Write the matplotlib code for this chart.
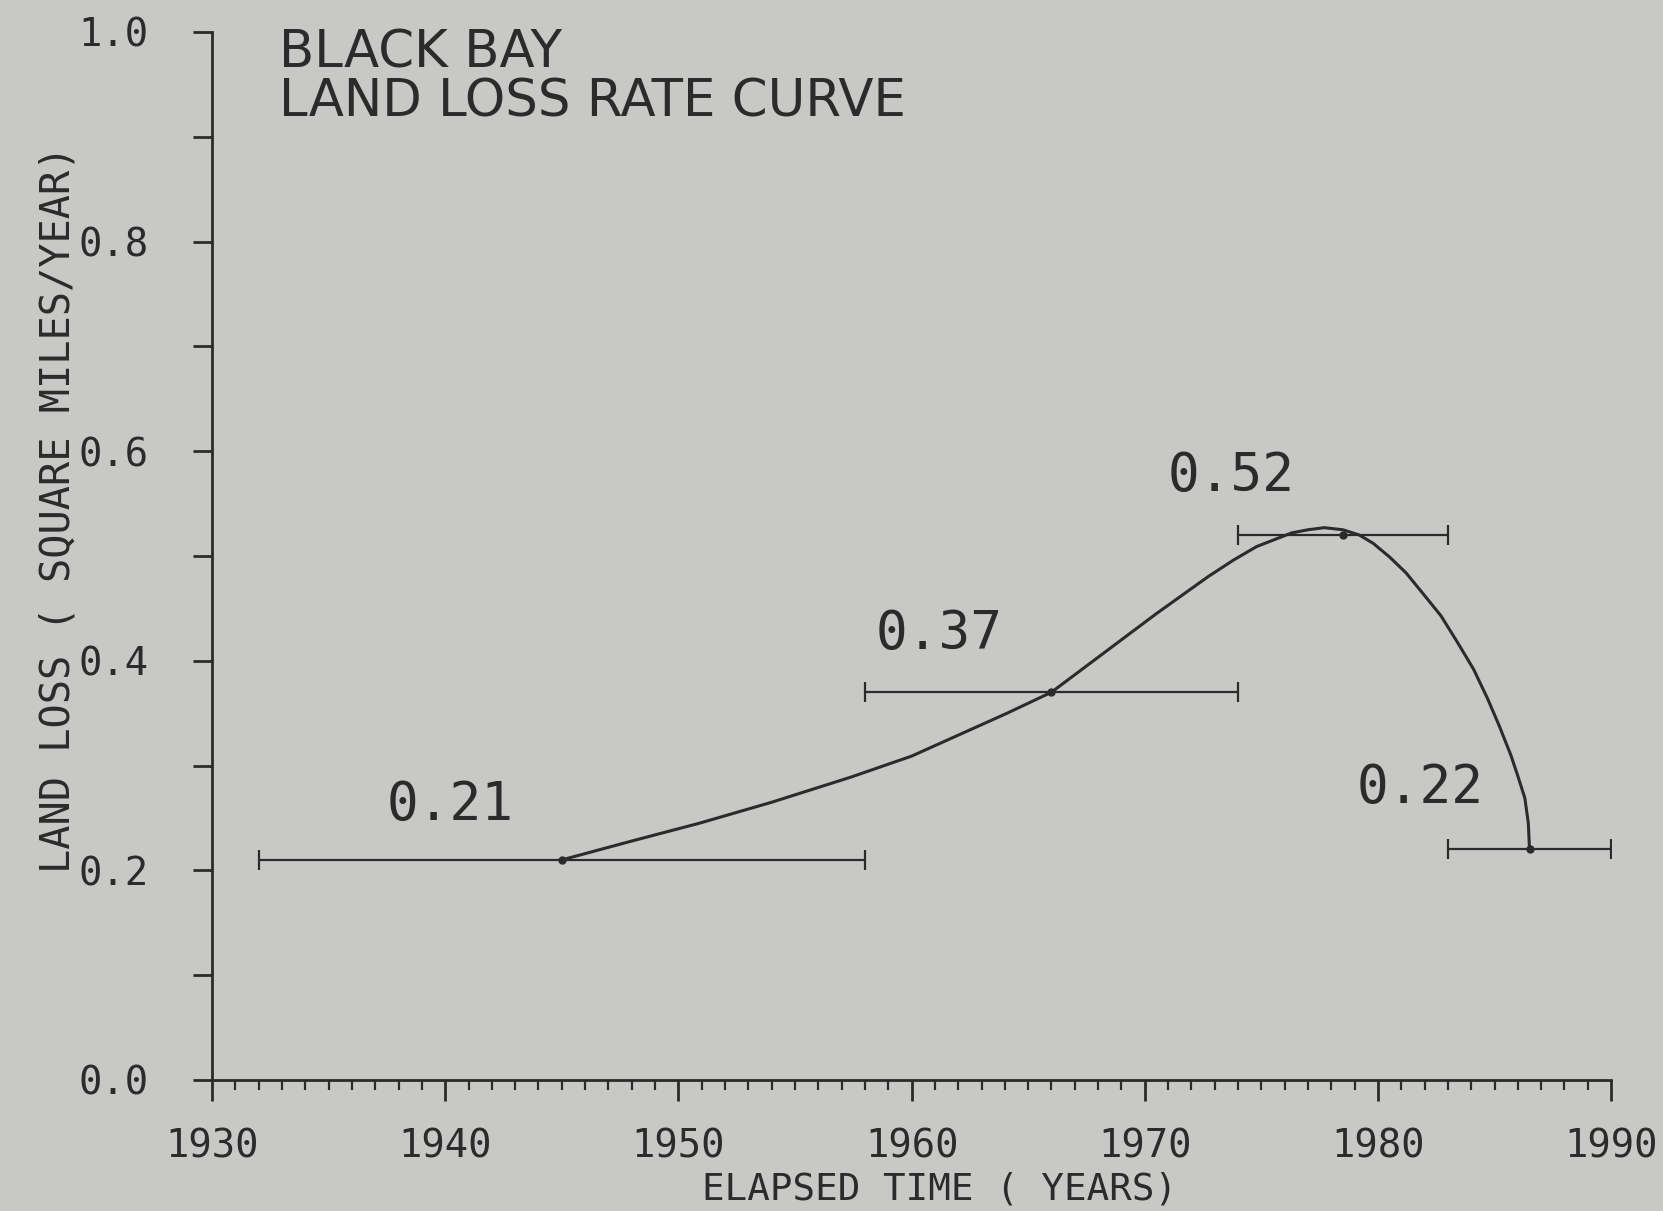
import matplotlib
matplotlib.use("Agg")
import matplotlib.pyplot as plt
from matplotlib.ticker import MultipleLocator, FixedLocator

# ---- data ----
period_start = [1932, 1958, 1974, 1983]
period_end = [1958, 1974, 1983, 1990]
rate_year = [1945, 1966, 1978.5, 1986.5]
rate_value = [0.21, 0.37, 0.52, 0.22]
rate_labels = ["0.21", "0.37", "0.52", "0.22"]

# smooth rate curve
curve_year = [1945, 1948.0, 1950.9, 1954.0, 1957.4, 1960.0, 1962.4, 1964.1, 1966.0,
              1967.2, 1968.4, 1970.5, 1972.7, 1973.8, 1974.8, 1976.3, 1977.0,
              1977.7, 1978.5, 1979.2, 1979.8, 1980.5, 1981.2, 1981.9, 1982.7,
              1983.4, 1984.1, 1984.7, 1985.2, 1985.7, 1986.0, 1986.3, 1986.45,
              1986.5]
curve_value = [0.21, 0.228, 0.245, 0.265, 0.289, 0.309, 0.333, 0.350, 0.37,
               0.390, 0.410, 0.445, 0.480, 0.496, 0.509, 0.522, 0.525,
               0.527, 0.525, 0.520, 0.512, 0.499, 0.484, 0.465, 0.443,
               0.418, 0.392, 0.364, 0.338, 0.310, 0.290, 0.269, 0.245,
               0.22]

x_ticks = [1930, 1940, 1950, 1960, 1970, 1980, 1990]
y_ticks = [0.0, 0.2, 0.4, 0.6, 0.8, 1.0]

title_lines = ["BLACK BAY", "LAND LOSS RATE CURVE"]
x_label = "ELAPSED TIME ( YEARS)"
y_label = "LAND LOSS ( SQUARE MILES/YEAR)"

# label anchor positions (data coordinates)
label_x = [1940.2, 1961.2, 1973.7, 1981.8]
label_y = [0.262, 0.426, 0.576, 0.279]

# ---- style ----
bg = "#c8c8c6"
ink = "#2b2b2b"
mono = "DejaVu Sans Mono"

fig = plt.figure(figsize=(16.63, 12.11), dpi=100, facecolor=bg)
ax = fig.add_axes([0.1275, 0.1082, 0.8413, 0.8654])
ax.set_facecolor(bg)

ax.set_xlim(1930, 1990)
ax.set_ylim(0.0, 1.0)

for s in ["top", "right"]:
    ax.spines[s].set_visible(False)
for s in ["left", "bottom"]:
    ax.spines[s].set_color(ink)
    ax.spines[s].set_linewidth(2.0)

ax.xaxis.set_major_locator(FixedLocator(x_ticks))
ax.xaxis.set_minor_locator(MultipleLocator(1))
ax.yaxis.set_major_locator(FixedLocator(y_ticks))
ax.yaxis.set_minor_locator(MultipleLocator(0.1))

ax.tick_params(axis="x", which="major", direction="out", length=15, width=2,
               color=ink, labelcolor=ink, pad=19, labelsize=28)
ax.tick_params(axis="x", which="minor", direction="out", length=7.5, width=1.6,
               color=ink)
ax.tick_params(axis="y", which="both", direction="out", length=14, width=2,
               color=ink, labelcolor=ink, pad=32, labelsize=28)

ax.set_xticklabels([str(v) for v in x_ticks], family=mono)
ax.set_yticklabels([f"{v:.1f}" for v in y_ticks], family=mono)

xl = ax.set_xlabel(x_label, family=mono, fontsize=27, color=ink)
xl.set_va("baseline")
ax.xaxis.set_label_coords(0.52, -0.1145)
yl = ax.set_ylabel(y_label, family=mono, fontsize=29, color=ink)
yl.set_va("center")
ax.yaxis.set_label_coords(-0.110, 0.545)

# error bars (time periods)
xerr_low = [c - s for c, s in zip(rate_year, period_start)]
xerr_high = [e - c for c, e in zip(rate_year, period_end)]
ax.errorbar(rate_year, rate_value, xerr=[xerr_low, xerr_high], fmt="none",
            ecolor=ink, elinewidth=1.6, capsize=7, capthick=1.6, zorder=2)

# smooth curve
ax.plot(curve_year, curve_value, color=ink, lw=2.2, zorder=3,
        solid_joinstyle="round", solid_capstyle="round")
ax.plot(rate_year, rate_value, "o", color=ink, ms=5, zorder=4)

for lx, ly, t in zip(label_x, label_y, rate_labels):
    ax.text(lx, ly, t, family=mono, fontsize=38, color=ink,
            ha="center", va="center")

fig.text(279 / 1663, 1 - 28 / 1211, "\n".join(title_lines),
         family="DejaVu Sans", fontsize=37, color=ink, ha="left", va="top",
         linespacing=0.98)

fig.savefig("out.png", dpi=100, facecolor=bg)
